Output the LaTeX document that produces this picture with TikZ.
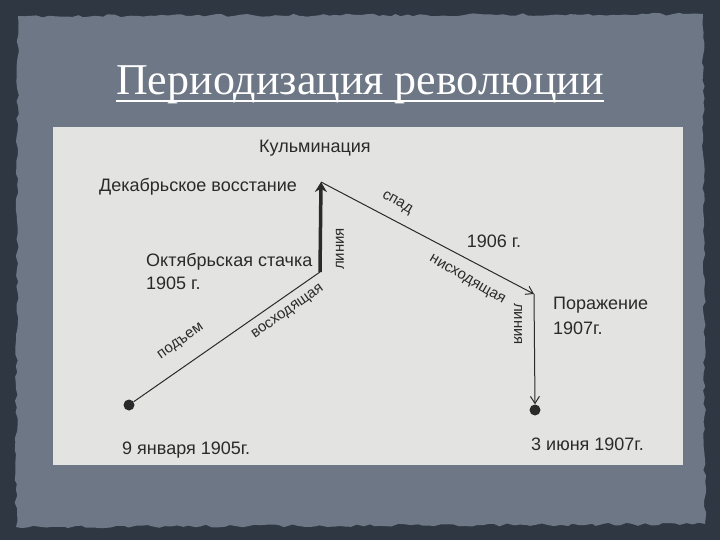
\documentclass[tikz,border=0pt]{standalone}
\usepackage{fontspec}
\setmainfont{Liberation Sans}
\newfontfamily\titlefont{Liberation Serif}
\usetikzlibrary{arrows.meta,decorations.pathmorphing}
\definecolor{outerbg}{HTML}{2F3743}
\definecolor{slatebg}{HTML}{6D7785}
\definecolor{paper}{HTML}{E3E3E1}
\definecolor{ink}{HTML}{2A2A2A}
\tikzset{
  lbl/.style={text=ink, font=\fontsize{18}{21}\selectfont, inner sep=0pt},
  rlbl/.style={text=ink, font=\fontsize{15}{17}\selectfont, inner sep=0pt},
  dot/.style={circle, fill=ink, minimum size=11pt, inner sep=0pt},
  thinline/.style={draw=ink, line width=1pt},
}
\begin{document}
\begin{tikzpicture}[x=1pt,y=-1pt]
\useasboundingbox (0,0) rectangle (720,540);
\fill[outerbg] (0,0) rectangle (720,540);
\fill[slatebg, decorate, decoration={random steps, segment length=6pt, amplitude=1.5pt}]
  (18,16) -- (703,14) -- (705,524) -- (16,527) -- cycle;
% title
\node[text=white, font=\titlefont\fontsize{44}{50}\selectfont, inner sep=0pt, anchor=base] (title) at (360,95) {Периодизация революции};
\draw[white, line width=1.3pt] (title.base west)++(0,6) coordinate (ul1) -- (ul1 -| title.base east);
% paper
\fill[paper] (53,127) rectangle (683,465);
% points
\coordinate (top) at (321,182);
\coordinate (oct) at (320,272);
\node[dot] (start) at (129,405) {};
\coordinate (def) at (534,294);
\node[dot] (end) at (535,410) {};
% connectors
\draw[thinline] (start) -- (oct);
\draw[draw=ink, line width=3.5pt, -{Stealth[length=10pt,width=12pt]}] (oct) -- (top);
\draw[thinline, -{Straight Barb[length=7pt,width=9pt]}] (top) -- (def);
\draw[thinline, -{Straight Barb[length=7pt,width=9pt]}] (def) -- (end.north);
% labels
\node[lbl, anchor=west] (kulm) at (259,148) {Кульминация};
\node[lbl, anchor=west] (dec) at (99,187) {Декабрьское восстание};
\node[lbl, anchor=west] (okt) at (146,262) {Октябрьская стачка};
\node[lbl, anchor=west] (okt2) at (146,283) {1905 г.};
\node[rlbl, rotate=90] (lin1) at (340,249) {линия};
\node[rlbl, rotate=35] (pod) at (181,342) {подъем};
\node[rlbl, rotate=35] (vosh) at (288,312) {восходящая};
\node[rlbl, rotate=-30] (spad) at (397,203) {спад};
\node[lbl] (y1906) at (494,241) {1906 г.};
\node[rlbl, rotate=-30] (nish) at (467,280) {нисходящая};
\node[rlbl, rotate=-90] (lin2) at (518,324) {линия};
\node[lbl, anchor=west] (por) at (553,305) {Поражение};
\node[lbl, anchor=west] (por2) at (553,328) {1907г.};
\node[lbl, anchor=west] (jan) at (122,450) {9 января 1905г.};
\node[lbl, anchor=west] (jun) at (531,444) {3 июня 1907г.};
\end{tikzpicture}
\end{document}
